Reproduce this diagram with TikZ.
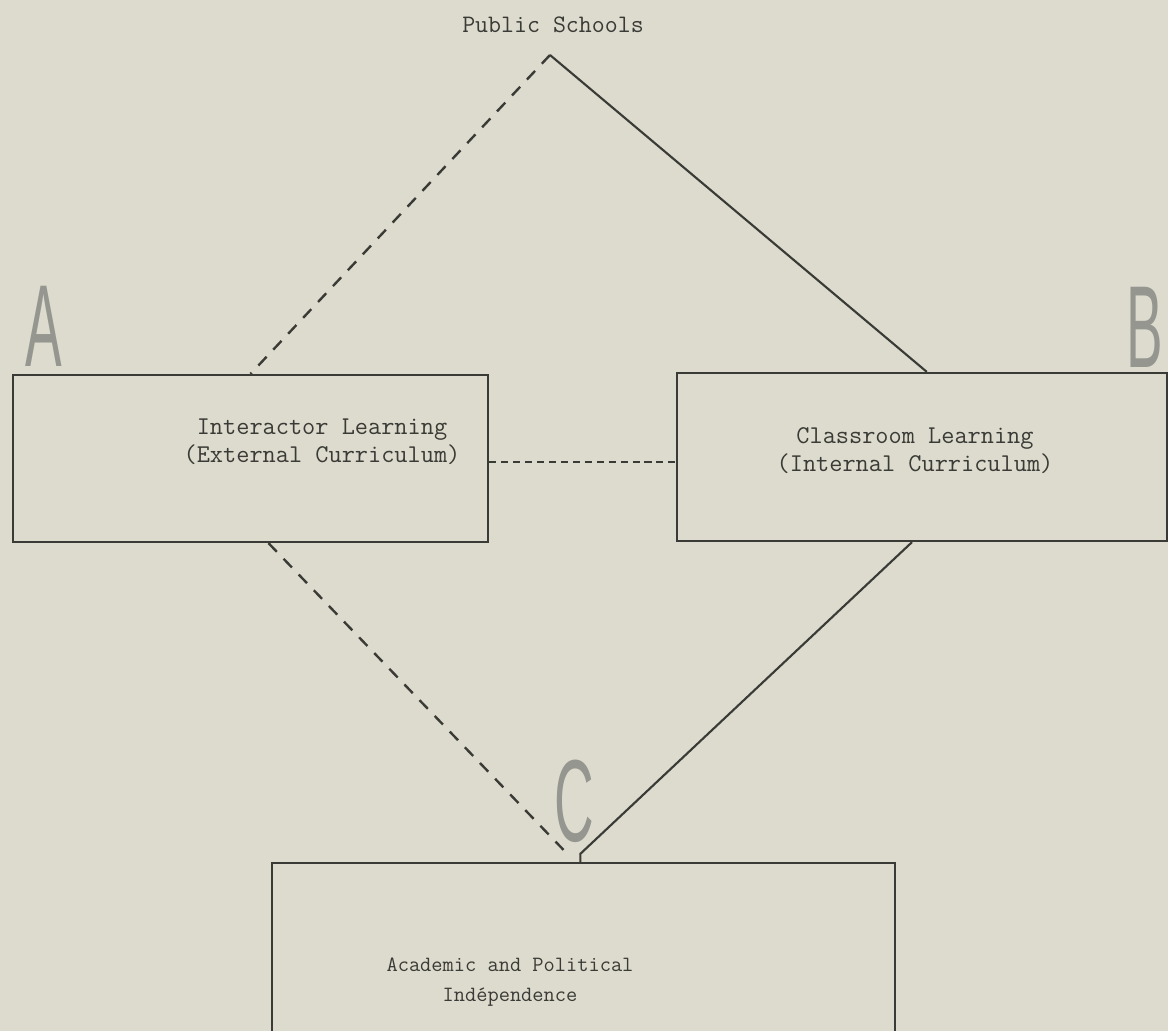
\documentclass[tikz,border=0pt]{standalone}
\usepackage{fontspec}
\usepackage{tikz}
\usetikzlibrary{positioning}
\newfontfamily\stencil{Liberation Sans}
\definecolor{paper}{RGB}{221,219,205}
\definecolor{ink}{RGB}{58,58,54}
\definecolor{letterink}{RGB}{150,150,144}
\tikzstyle{block} = [draw=ink, rectangle, line width=1.6pt, inner sep=0pt]
\tikzstyle{txt} = [align=center, text=ink, font=\ttfamily\fontsize{18.2}{20}\selectfont]
\tikzstyle{bigletter} = [text=letterink, inner sep=0pt, xscale=0.47, font=\stencil\fontsize{83}{83}\selectfont]
\tikzstyle{solidline} = [draw=ink, line width=1.5pt]
\tikzstyle{dashline} = [draw=ink, line width=1.7pt, dash pattern=on 8.5pt off 7pt]
\tikzstyle{dotline} = [draw=ink, line width=1.9pt, dash pattern=on 5pt off 3.5pt]

\begin{document}
\begin{tikzpicture}
    \fill[paper] (0,0) rectangle (29.2,-25.775);
    \clip (0,0) rectangle (29.2,-25.775);
    % boxes
    \node (boxA) [block, minimum width=11.875cm, minimum height=4.175cm] at (6.2625,-11.4625) {};
    \node (boxB) [block, minimum width=12.25cm, minimum height=4.2cm] at (23.05,-11.425) {};
    \node (boxC) [block, minimum width=15.575cm, minimum height=6.5cm] at (14.5875,-24.825) {};
    % texts
    \node (schools) [txt, font=\ttfamily\fontsize{17.9}{20}\selectfont] at (13.825,-0.625) {Public Schools};
    \node (txtA) [txt] at (8.05,-11.05) {Interactor Learning\\(External Curriculum)};
    \node (txtB) [txt] at (22.875,-11.275) {Classroom Learning\\(Internal Curriculum)};
    \node (txtC) [txt, font=\ttfamily\fontsize{15.5}{21}\selectfont] at (12.75,-24.55) {Academic and Political\\Indépendence};
    \node (letA) [bigletter] at (1.0875,-8.15) {A};
    \node (letB) [bigletter] at (28.625,-8.19) {B};
    \node (letC) [bigletter] at (14.35,-20.04) {C};
    \coordinate (apex) at (13.75,-1.375);
    % connectors
    \draw [dashline] (apex) -- (boxA.north);
    \draw [solidline] (apex) -- ([xshift=0.12cm]boxB.north);
    \draw [dotline] ([yshift=-0.09cm]boxA.east) -- ([yshift=-0.09cm]boxA.east -| boxB.west);
    \draw [dashline] ([xshift=0.45cm]boxA.south) -- ([xshift=-0.5cm,yshift=0.3cm]boxC.north);
    \draw [solidline] ([xshift=-0.25cm]boxB.south) -- ([xshift=-0.08cm,yshift=0.2cm]boxC.north) -- ([xshift=-0.08cm]boxC.north);
\end{tikzpicture}
\end{document}
